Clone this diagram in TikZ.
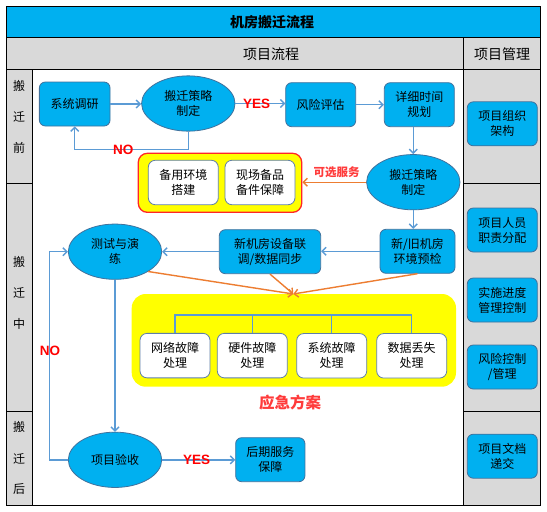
\documentclass[tikz,border=0pt]{standalone}
\usepackage{fontspec}
\setmainfont{Noto Sans CJK SC}
\newfontfamily\latinb{Liberation Sans}
\usetikzlibrary{arrows.meta,shapes.geometric,calc}
\definecolor{cyanb}{HTML}{00B0F0}
\definecolor{bdrc}{HTML}{41719C}
\definecolor{wbdr}{HTML}{5F7FA8}
\definecolor{connc}{HTML}{5B9BD5}
\definecolor{orngc}{HTML}{ED7D31}
\definecolor{grayc}{HTML}{D9D9D9}
\definecolor{ylwc}{HTML}{FFFF00}
\definecolor{redt}{HTML}{FF0000}
\definecolor{redl}{HTML}{FF3B3B}
\begin{document}
\begin{tikzpicture}[x=1pt,y=-1pt,
  font=\fontsize{12}{15}\selectfont,
  bluebox/.style={draw=bdrc, fill=cyanb, rounded corners=6pt, line width=0.8pt, minimum width=70pt, minimum height=44pt, align=center, inner sep=1pt},
  whitebox/.style={draw=wbdr, fill=white, rounded corners=7pt, line width=0.8pt, minimum width=70pt, minimum height=44.5pt, align=center, inner sep=1pt},
  blueell/.style={ellipse, draw=bdrc, fill=cyanb, line width=0.8pt, minimum width=93.4pt, minimum height=55.3pt, align=center, inner sep=0pt},
  cline/.style={draw=connc, line width=1.4pt, -{Straight Barb[length=4pt,width=8pt]}},
  tline/.style={draw=connc, line width=1.4pt},
  oline/.style={draw=orngc, line width=1.4pt, -{Straight Barb[length=4pt,width=8pt]}},
  yn/.style={font=\latinb\bfseries\fontsize{13.5}{15}\selectfont, text=redt, inner sep=0pt},
  rowlab/.style={font=\fontsize{12}{14}\selectfont, inner sep=0pt},
  gridline/.style={draw=black, line width=0.9pt}
]
\useasboundingbox (0,0) rectangle (547,512);
\fill[white] (0,0) rectangle (547,512);
% grid backgrounds
\fill[cyanb] (6,6) rectangle (540.5,37.7);
\fill[grayc] (6,37.7) rectangle (540.5,69.3);
\fill[grayc] (6,69.3) rectangle (32.3,505.5);
\fill[grayc] (463.3,69.3) rectangle (540.5,505.5);
\draw[gridline] (6,6) rectangle (540.5,505.5);
\draw[gridline] (6,37.7) -- (540.5,37.7);
\draw[gridline] (6,69.3) -- (540.5,69.3);
\draw[gridline] (32.3,69.3) -- (32.3,505.5);
\draw[gridline] (463.3,37.7) -- (463.3,505.5);
\draw[gridline] (6,183.3) -- (32.3,183.3);
\draw[gridline] (463.3,183.3) -- (540.5,183.3);
\draw[gridline] (6,411.7) -- (32.3,411.7);
\draw[gridline] (463.3,411.7) -- (540.5,411.7);
% titles
\node[font=\bfseries\fontsize{14}{16}\selectfont] (title) at (272,22) {机房搬迁流程};
\node[font=\fontsize{14}{16}\selectfont] (hflow) at (271,54) {项目流程};
\node[font=\fontsize{14}{16}\selectfont] (hmgmt) at (502,54) {项目管理};
% row labels
\node[rowlab] (ra1) at (19,86) {搬};
\node[rowlab] (ra2) at (19,117) {迁};
\node[rowlab] (ra3) at (19,148) {前};
\node[rowlab] (rb1) at (19,261.7) {搬};
\node[rowlab] (rb2) at (19,293.3) {迁};
\node[rowlab] (rb3) at (19,324.3) {中};
\node[rowlab] (rc1) at (19,427.3) {搬};
\node[rowlab] (rc2) at (19,459) {迁};
\node[rowlab] (rc3) at (19,489.3) {后};
% right column
\node[bluebox] (r1) at (502.3,123.8) {项目组织\\架构};
\node[bluebox] (r2) at (502.3,230) {项目人员\\职责分配};
\node[bluebox] (r3) at (502.3,300) {实施进度\\管理控制};
\node[bluebox] (r4) at (502.3,367) {风险控制\\/管理};
\node[bluebox] (r5) at (502.3,456.2) {项目文档\\递交};
% containers
\node[draw=redt!85, fill=ylwc, rounded corners=9pt, line width=1.3pt, minimum width=163.4pt, minimum height=59pt, inner sep=0pt] (opt) at (220,182.8) {};
\node[fill=ylwc, rounded corners=14pt, minimum width=324.3pt, minimum height=92.7pt, inner sep=0pt] (emg) at (293.85,340.35) {};
% flow nodes
\node[bluebox, minimum width=70.7pt] (sys) at (74.7,104) {系统调研};
\node[blueell] (e1) at (188.3,103.5) {搬迁策略\\制定};
\node[bluebox] (risk) at (320.7,104.7) {风险评估};
\node[bluebox] (plan) at (419.3,104.7) {详细时间\\规划};
\node[blueell] (e2) at (413.3,182.2) {搬迁策略\\制定};
\node[whitebox] (b1) at (183.3,182.5) {备用环境\\搭建};
\node[whitebox] (b2) at (260,182.5) {现场备品\\备件保障};
\node[bluebox, minimum width=75pt] (newold) at (417.5,251.3) {新/旧机房\\环境预检};
\node[bluebox, minimum width=101.4pt] (newdev) at (270,251.7) {新机房设备联\\调/数据同步};
\node[blueell] (e3) at (115,251.7) {测试与演\\练};
\node[whitebox] (f1) at (175,355.6) {网络故障\\处理};
\node[whitebox] (f2) at (252.3,355.6) {硬件故障\\处理};
\node[whitebox] (f3) at (331.7,355.8) {系统故障\\处理};
\node[whitebox] (f4) at (411.7,355.8) {数据丢失\\处理};
\node[blueell] (e4) at (115,459.8) {项目验收};
\node[bluebox, minimum width=69.3pt] (after) at (270.3,459.7) {后期服务\\保障};
% tree
\coordinate (tl) at (175,315);
\draw[tline] (f1.north) -- (f1.north |- tl) -- (f4.north |- tl) -- (f4.north);
\draw[tline] (f2.north) -- (f2.north |- tl);
\draw[tline] (f3.north) -- (f3.north |- tl);
% connectors
\draw[cline] (sys.east) -- (sys.east -| e1.west);
\draw[cline] (e1.east) -- (e1.east -| risk.west);
\draw[cline] (risk.east) -- (risk.east -| plan.west);
\draw[cline] (e2.north |- plan.south) -- (e2.north);
\coordinate (nob) at (188.3,149.3);
\draw[cline] (e1.south) -- (nob) -| (sys.south);
\draw[cline] (e2.south) -- (e2.south |- newold.north);
\draw[cline] (newold.west) -- (newold.west -| newdev.east);
\draw[cline] (newdev.west) -- (newdev.west -| e3.east);
\draw[cline] (e3.south) -- (e4.north);
\coordinate (lbot) at (49.3,459.8);
\draw[cline] (e4.west) -- (lbot) |- (e3.west);
\draw[cline] (e4.east) -- (e4.east -| after.west);
\draw[oline] (e2.west) -- (e2.west -| opt.east);
\coordinate (conv) at (293.3,294);
\draw[oline] (e3.south east) -- (conv);
\draw[oline] (newdev.south) -- (conv);
\draw[oline] (newold.south) -- (conv);
% labels
\node[yn] (yes1) at (256.7,103.5) {YES};
\node[yn] (no1) at (123.3,150) {NO};
\node[yn] (no2) at (50,351) {NO};
\node[yn] (yes2) at (196.7,460) {YES};
\node[font=\bfseries\fontsize{11.5}{13}\selectfont, text=redl, inner sep=0pt] (optl) at (336.7,172.7) {可选服务};
\node[font=\bfseries\fontsize{15.5}{18}\selectfont, text=redl, inner sep=0pt] (emgl) at (290,402.7) {应急方案};
\end{tikzpicture}
\end{document}
